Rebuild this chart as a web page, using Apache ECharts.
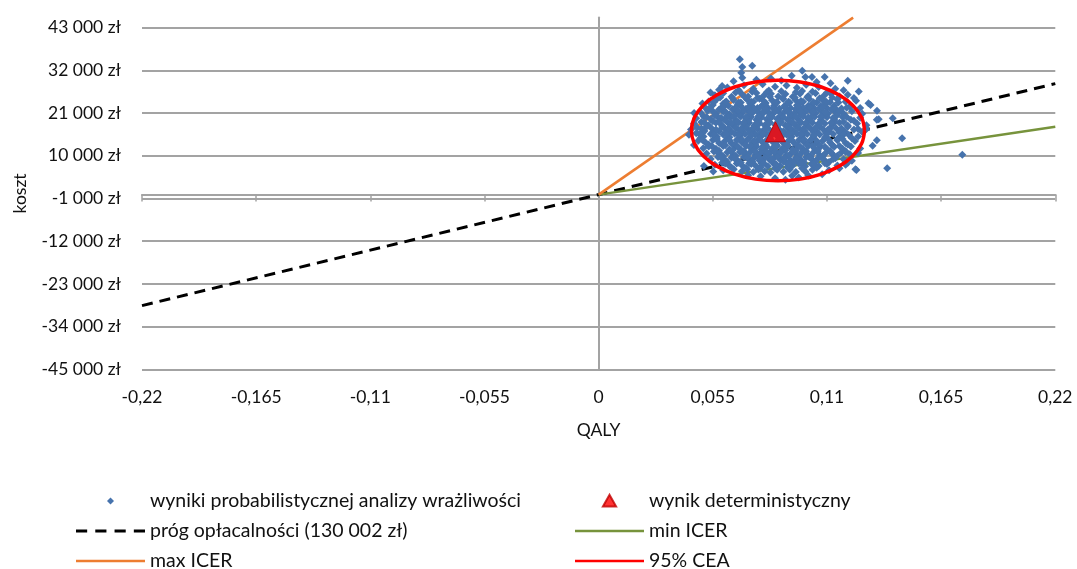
<!DOCTYPE html>
<html>
<head>
<meta charset="utf-8">
<script src="https://cdn.jsdelivr.net/npm/echarts@6/dist/echarts.min.js"></script>
<style>
html,body{margin:0;padding:0;background:#fff;}
#c{width:1077px;height:569px;}
</style>
</head>
<body>
<div id="c"></div>
<script>
// ---- axis ticks ----
const xTicks = [-0.22, -0.165, -0.11, -0.055, 0, 0.055, 0.11, 0.165, 0.22];
const yTicks = [-45000, -34000, -23000, -12000, -1000, 10000, 21000, 32000, 43000];
const yTop = 45600; // plot area extends slightly above the last labelled tick

// ---- series names ----
const names = {
  psa: 'wyniki probabilistycznej analizy wrażliwości',
  det: 'wynik deterministyczny',
  wtp: 'próg opłacalności (130 002 zł)',
  minI: 'min ICER',
  maxI: 'max ICER',
  cea: '95% CEA'
};

// ---- lines ----
const wtpLine = [[-0.22, -28600], [0.22, 28600]];
const minIcerLine = [[0, 0], [0.22, 17490]];
const maxIcerLine = [[0, 0], [0.1226, 45600]];

// ---- deterministic result ----
const detPoint = [[0.0852, 16200]];

// ---- 95% CEA ellipse ----
const ceaEllipse = [
  [0.1281,16500],[0.1267,19850],[0.1225,22980],[0.1159,25660],[0.1073,27720],[0.0972,29010],
  [0.0864,29450],[0.0756,29010],[0.0655,27720],[0.0569,25660],[0.0503,22980],[0.0461,19850],
  [0.0447,16500],[0.0461,13150],[0.0503,10030],[0.0569,7340],[0.0655,5290],[0.0756,3990],
  [0.0864,3550],[0.0972,3990],[0.1073,5290],[0.1159,7340],[0.1225,10030],[0.1267,13150],
  [0.1281,16500]
];

// ---- PSA results ----
const psaPoints = [
  [0.0687,31400],[0.0692,32900],[0.0680,34900],[0.0740,33200],[0.0692,30100],[0.0981,31900],[0.0996,30300],[0.1028,30300],[0.1089,30300],[0.1117,28700],[0.1200,29300],[0.0595,28000],[0.0539,26300],[0.0650,29200],[0.0760,29600],[0.0830,29900],[0.0880,29400],[0.0930,30600],[0.1050,29000],
  [0.0620,27600],[0.0700,28200],[0.0745,27300],[0.0790,28400],[0.0850,27800],[0.0905,28100],[0.0955,27500],[0.1000,28300],[0.1060,27700],[0.1140,27300],[0.1253,26550],[0.0580,27000],[0.0675,26900],[0.0820,26800],[0.0980,26700],[0.1180,26900],
  [0.0560,25600],[0.0600,26100],[0.0640,25200],[0.0690,25900],[0.0720,25300],[0.0760,26200],[0.0795,25500],[0.0830,26000],[0.0865,25300],[0.0900,25900],[0.0935,25200],[0.0970,26000],[0.1010,25400],[0.1045,26100],[0.1085,25500],[0.1120,25900],[0.1160,25300],[0.1200,25700],[0.1230,24900],
  [0.0530,24000],[0.0570,24600],[0.0610,23800],[0.0650,24400],[0.0685,23700],[0.0715,24500],[0.0745,23900],[0.0775,24700],[0.0805,23600],[0.0835,24300],[0.0860,23800],[0.0890,24600],[0.0920,23700],[0.0950,24300],[0.0985,23900],[0.1015,24600],[0.1050,23700],[0.1080,24300],[0.1115,23800],[0.1150,24500],[0.1190,23900],[0.1240,24200],[0.1300,23560],[0.1310,23100],
  [0.0510,22600],[0.0550,23100],[0.0590,22300],[0.0625,22900],[0.0655,22200],[0.0685,22800],[0.0710,22100],[0.0740,22700],[0.0765,22300],[0.0790,23000],[0.0815,22400],[0.0845,22900],[0.0870,22200],[0.0895,22800],[0.0925,22300],[0.0955,23000],[0.0985,22400],[0.1010,22900],[0.1040,22200],[0.1070,22800],[0.1100,22300],[0.1135,22900],[0.1170,22200],[0.1210,22700],[0.1260,22300],
  [0.0490,21200],[0.0525,21600],[0.0565,20800],[0.0600,21400],[0.0630,20700],[0.0660,21500],[0.0690,20900],[0.0715,21700],[0.0740,21000],[0.0765,21500],[0.0790,20800],[0.0815,21400],[0.0840,20900],[0.0865,21600],[0.0890,21000],[0.0915,21500],[0.0940,20800],[0.0965,21400],[0.0990,21000],[0.1020,21700],[0.1045,20900],[0.1075,21500],[0.1105,20800],[0.1140,21300],[0.1180,20900],[0.1220,21500],[0.1270,20800],[0.1341,21580],
  [0.0470,19700],[0.0505,20200],[0.0540,19400],[0.0575,20000],[0.0605,19300],[0.0635,19900],[0.0660,19200],[0.0685,20100],[0.0710,19500],[0.0735,20000],[0.0760,19300],[0.0785,19900],[0.0810,19400],[0.0835,20100],[0.0860,19500],[0.0885,20000],[0.0910,19300],[0.0935,19900],[0.0960,19400],[0.0985,20100],[0.1010,19500],[0.1040,20000],[0.1070,19300],[0.1100,19900],[0.1135,19400],[0.1175,20000],[0.1215,19300],[0.1260,19800],[0.1349,19440],[0.1417,19700],[0.1340,19260],
  [0.0460,18300],[0.0495,18700],[0.0530,17900],[0.0565,18500],[0.0595,17800],[0.0625,18400],[0.0650,17700],[0.0675,18600],[0.0700,18000],[0.0725,18500],[0.0750,17800],[0.0775,18400],[0.0800,17900],[0.0825,18600],[0.0850,18000],[0.0875,18500],[0.0900,17800],[0.0925,18400],[0.0950,17900],[0.0975,18600],[0.1000,18000],[0.1030,18500],[0.1060,17800],[0.1090,18300],[0.1125,17900],[0.1160,18500],[0.1200,17800],[0.1245,18300],[0.1290,17900],
  [0.0445,16800],[0.0475,17200],[0.0510,16400],[0.0545,17000],[0.0580,16300],[0.0610,16900],[0.0640,16200],[0.0665,17100],[0.0690,16500],[0.0715,17000],[0.0740,16300],[0.0765,16900],[0.0790,16400],[0.0815,17100],[0.0840,16500],[0.0865,17000],[0.0890,16300],[0.0915,16900],[0.0940,16400],[0.0965,17100],[0.0990,16500],[0.1020,17000],[0.1050,16300],[0.1080,16900],[0.1110,16400],[0.1145,17000],[0.1185,16300],[0.1230,16800],[0.1289,16860],
  [0.0435,15400],[0.0470,15800],[0.0505,15000],[0.0540,15600],[0.0570,14900],[0.0600,15500],[0.0630,14800],[0.0655,15700],[0.0680,15100],[0.0705,15600],[0.0730,14900],[0.0755,15500],[0.0780,15000],[0.0805,15700],[0.0830,15100],[0.0855,15600],[0.0880,14900],[0.0905,15500],[0.0930,15000],[0.0955,15700],[0.0980,15100],[0.1005,15600],[0.1035,14900],[0.1065,15500],[0.1095,15000],[0.1130,15600],[0.1165,14900],[0.1205,15400],[0.1250,15000],[0.1462,14540],[0.1340,14030],
  [0.0459,12810],[0.0480,13900],[0.0515,13400],[0.0550,14100],[0.0580,13300],[0.0610,13900],[0.0640,13200],[0.0665,14100],[0.0690,13500],[0.0715,14000],[0.0740,13300],[0.0765,13900],[0.0790,13400],[0.0815,14100],[0.0840,13500],[0.0865,14000],[0.0890,13300],[0.0915,13900],[0.0940,13400],[0.0965,14100],[0.0990,13500],[0.1020,14000],[0.1050,13300],[0.1080,13900],[0.1115,13400],[0.1150,14000],[0.1190,13300],[0.1235,13800],[0.1320,12560],
  [0.0504,11960],[0.0530,12400],[0.0565,11800],[0.0600,12500],[0.0630,11700],[0.0660,12300],[0.0685,11600],[0.0710,12500],[0.0735,11900],[0.0760,12400],[0.0785,11700],[0.0810,12300],[0.0835,11800],[0.0860,12500],[0.0885,11900],[0.0910,12400],[0.0935,11700],[0.0960,12300],[0.0985,11800],[0.1010,12500],[0.1040,11900],[0.1070,12400],[0.1100,11700],[0.1135,12300],[0.1175,11800],[0.1215,12400],[0.1260,11900],
  [0.0520,10600],[0.0555,11100],[0.0590,10300],[0.0620,10900],[0.0650,10200],[0.0680,11000],[0.0705,10400],[0.0730,10900],[0.0755,10200],[0.0780,10800],[0.0805,10300],[0.0830,11000],[0.0855,10400],[0.0880,10900],[0.0905,10200],[0.0930,10800],[0.0955,10300],[0.0980,11000],[0.1005,10400],[0.1035,10900],[0.1065,10200],[0.1095,10800],[0.1130,10300],[0.1170,10900],[0.1210,10400],[0.1250,10700],[0.1752,10240],
  [0.0540,9200],[0.0575,9700],[0.0610,8900],[0.0640,9500],[0.0670,8800],[0.0700,9600],[0.0725,9000],[0.0750,9500],[0.0775,8800],[0.0800,9400],[0.0825,8900],[0.0850,9600],[0.0875,9000],[0.0900,9500],[0.0925,8800],[0.0950,9400],[0.0975,8900],[0.1000,9600],[0.1030,9000],[0.1060,9500],[0.1090,8800],[0.1140,9390],[0.1180,9100],[0.1220,8700],
  [0.0560,7700],[0.0595,8200],[0.0630,7400],[0.0665,8000],[0.0695,7300],[0.0725,8100],[0.0755,7500],[0.0785,8000],[0.0815,7300],[0.0845,7900],[0.0875,7400],[0.0905,8100],[0.0935,7500],[0.0965,8000],[0.0995,7300],[0.1025,7900],[0.1060,7400],[0.1100,7900],[0.1150,7500],[0.1190,7700],[0.0507,7400],
  [0.0552,5930],[0.0600,6300],[0.0651,6550],[0.0690,6000],[0.0716,6550],[0.0745,5800],[0.0770,6500],[0.0800,6000],[0.0828,5680],[0.0860,6400],[0.0890,5900],[0.0920,6500],[0.0950,5800],[0.0996,5930],[0.1030,6400],[0.1077,5260],[0.1110,6300],[0.1237,6550],[0.1242,6370],[0.1390,6800],
  [0.0932,4830],[0.0964,4390],[0.0780,4700],[0.0850,4200],[0.0900,3800],[0.1010,4900],[0.0720,5000],
  [0.0600,23400],[0.0670,23300],[0.0730,23500],[0.0800,23300],[0.0850,23400],[0.0905,23200],[0.0970,23500],[0.1030,23300],[0.1095,23400],
  [0.0580,21900],[0.0645,22000],[0.0700,21800],[0.0750,22000],[0.0805,21900],[0.0855,21800],[0.0905,22000],[0.0950,21900],[0.1005,21800],[0.1060,22000],[0.1120,21900],
  [0.0560,20400],[0.0620,20300],[0.0675,20500],[0.0725,20300],[0.0775,20400],[0.0825,20500],[0.0875,20300],[0.0925,20400],[0.0975,20500],[0.1030,20300],[0.1085,20400],[0.1150,20500],
  [0.0550,18900],[0.0615,19000],[0.0665,18800],[0.0720,19000],[0.0770,18900],[0.0820,18800],[0.0870,19000],[0.0920,18900],[0.0970,18800],[0.1020,19000],[0.1075,18900],[0.1140,18800],[0.1230,19000],
  [0.0520,17500],[0.0595,17400],[0.0660,17300],[0.0710,17500],[0.0760,17400],[0.0810,17300],[0.0860,17500],[0.0910,17400],[0.0960,17300],[0.1010,17500],[0.1065,17400],[0.1120,17300],[0.1200,17500],
  [0.0500,15900],[0.0560,16100],[0.0625,15900],[0.0680,16000],[0.0730,16100],[0.0780,15900],[0.0830,16000],[0.0880,16100],[0.0930,15900],[0.0980,16000],[0.1035,16100],[0.1095,15900],[0.1160,16000],[0.1270,16100],
  [0.0490,14500],[0.0560,14400],[0.0620,14600],[0.0675,14400],[0.0725,14500],[0.0775,14600],[0.0825,14400],[0.0875,14500],[0.0925,14600],[0.0975,14400],[0.1030,14500],[0.1090,14600],[0.1150,14400],[0.1220,14500],
  [0.0530,12900],[0.0595,13000],[0.0655,12800],[0.0705,12900],[0.0755,13000],[0.0805,12800],[0.0855,12900],[0.0905,13000],[0.0955,12800],[0.1005,12900],[0.1060,13000],[0.1125,12800],[0.1200,12900],
  [0.0580,11300],[0.0645,11400],[0.0700,11200],[0.0750,11400],[0.0800,11300],[0.0850,11200],[0.0900,11400],[0.0950,11300],[0.1000,11200],[0.1055,11400],[0.1115,11300],[0.1190,11200],
  [0.0600,9900],[0.0660,10000],[0.0715,9800],[0.0765,9900],[0.0815,10000],[0.0865,9800],[0.0915,9900],[0.0965,10000],[0.1020,9800],[0.1080,9900],[0.1150,10000],
  [0.0620,8400],[0.0685,8300],[0.0740,8500],[0.0790,8400],[0.0840,8300],[0.0890,8500],[0.0940,8400],[0.0990,8300],[0.1045,8500],[0.1110,8400],
  [0.0660,26300],[0.0740,26500],[0.0810,26400],[0.0880,26600],[0.0950,26400],[0.1030,26500],[0.1100,26300],
  [0.0640,7000],[0.0710,6900],[0.0780,7000],[0.0850,6800],[0.0910,7000],[0.0980,6800],[0.1050,6900],
  [0.0460,21000],[0.0500,23500],[0.1160,6800],[0.1200,8200],
  [0.0585,25000],[0.0645,24800],[0.0705,25100],[0.0765,24900],[0.0825,25200],[0.0885,24800],[0.0945,25000],[0.1005,25100],[0.1065,24800],[0.1125,25000],
  [0.0555,23800],[0.0615,24000],[0.0675,23700],[0.0735,23900],[0.0795,24100],[0.0855,23700],[0.0915,23900],[0.0975,24100],[0.1035,23800],[0.1095,24000],[0.1155,23700],
  [0.0535,22300],[0.0600,22500],[0.0660,22200],[0.0720,22400],[0.0780,22600],[0.0840,22200],[0.0900,22400],[0.0960,22600],[0.1020,22300],[0.1080,22500],[0.1140,22200],[0.1195,22400],
  [0.0550,21500],[0.0612,21300],[0.0672,21600],[0.0732,21400],[0.0792,21200],[0.0852,21500],[0.0912,21300],[0.0972,21600],[0.1032,21400],[0.1092,21200],[0.1160,21500],
  [0.0520,20000],[0.0590,19800],[0.0650,20100],[0.0710,19900],[0.0770,20200],[0.0830,19800],[0.0890,20000],[0.0950,20200],[0.1010,19900],[0.1070,20100],[0.1130,19800],[0.1195,20000],
  [0.0510,18500],[0.0580,18700],[0.0640,18400],[0.0700,18600],[0.0760,18300],[0.0820,18500],[0.0880,18700],[0.0940,18400],[0.1000,18600],[0.1060,18300],[0.1120,18500],[0.1180,18700],
  [0.0495,17000],[0.0565,16800],[0.0625,17100],[0.0685,16900],[0.0745,17200],[0.0805,16800],[0.0865,16600],[0.0925,17100],[0.0985,16900],[0.1045,17200],[0.1105,16800],[0.1170,17000],[0.1250,16900],
  [0.0485,15600],[0.0555,15400],[0.0615,15700],[0.0675,15500],[0.0735,15300],[0.0795,15600],[0.0855,15400],[0.0915,15700],[0.0975,15500],[0.1035,15300],[0.1100,15600],[0.1180,15500],
  [0.0500,14100],[0.0570,14300],[0.0630,14000],[0.0690,14200],[0.0750,13900],[0.0810,14100],[0.0870,14300],[0.0930,14000],[0.0990,14200],[0.1050,13900],[0.1110,14100],[0.1175,14300],
  [0.0545,12500],[0.0610,12700],[0.0670,12400],[0.0730,12600],[0.0790,12300],[0.0850,12500],[0.0910,12700],[0.0970,12400],[0.1030,12600],[0.1090,12300],[0.1160,12500],
  [0.0570,11000],[0.0635,11200],[0.0695,10900],[0.0755,11100],[0.0815,10800],[0.0875,11000],[0.0935,11200],[0.0995,10900],[0.1055,11100],[0.1120,10800],[0.1190,11000],
  [0.0590,9500],[0.0655,9300],[0.0715,9600],[0.0775,9400],[0.0835,9200],[0.0895,9500],[0.0955,9300],[0.1015,9600],[0.1075,9400],[0.1130,9200],
  [0.0610,8000],[0.0675,8200],[0.0735,7900],[0.0795,8100],[0.0855,7800],[0.0915,8000],[0.0975,8200],[0.1035,7900],[0.1090,8100]
];

// ---- formatting helpers ----
function fmtY(v) {
  const r = Math.round(v);
  if (yTicks.indexOf(r) < 0) return '';
  const s = Math.abs(r).toString().replace(/\B(?=(\d{3})+(?!\d))/g, ' ');
  return (r < 0 ? '-' : '') + s + ' zł';
}
function fmtX(v) {
  const r = parseFloat(v.toFixed(3));
  return String(r === 0 ? 0 : r).replace('.', ',');
}

const FONT = 'Lato';
const gridColor = '#a3a3a3';
const xInterval = xTicks[1] - xTicks[0];
const yInterval = yTicks[1] - yTicks[0];

// legend icons
const ICON_DIAMOND = 'path://M0,0M20,20M10,5L15,10L10,15L5,10Z';
const ICON_TRIANGLE = 'path://M0,0M18,18M9,1L17.5,16L0.5,16Z';
const ICON_LINE = 'path://M0,0L69,0L69,2.5L0,2.5Z';
const ICON_DASH = 'path://M0,0L11,0L11,3L0,3Z M19,0L30,0L30,3L19,3Z M38,0L49,0L49,3L38,3Z M57,0L68,0L68,3L57,3Z';

const legendText = {fontSize: 19.5, color: '#111', fontFamily: FONT};

const chart = echarts.init(document.getElementById('c'), null, {renderer: 'canvas'});
chart.setOption({
  animation: false,
  backgroundColor: '#fff',
  textStyle: {fontFamily: FONT},
  grid: {left: 142, right: 21.7, top: 17.6, bottom: 199.7, containLabel: false},
  xAxis: [
    { // zero axis line with ticks
      type: 'value', min: xTicks[0], max: xTicks[xTicks.length - 1], interval: xInterval,
      position: 'bottom',
      axisLine: {show: true, onZero: true, onZeroAxisIndex: 0, lineStyle: {color: gridColor, width: 2}},
      axisTick: {show: true, length: 7, lineStyle: {color: gridColor, width: 1.5}},
      axisLabel: {show: false},
      splitLine: {show: false}
    },
    { // labels at bottom
      type: 'value', min: xTicks[0], max: xTicks[xTicks.length - 1], interval: xInterval,
      position: 'bottom',
      axisLine: {show: false, onZero: false},
      axisTick: {show: false},
      splitLine: {show: false},
      axisLabel: {show: true, margin: 19, fontSize: 17.5, color: '#111', fontFamily: FONT, formatter: fmtX},
      name: 'QALY', nameLocation: 'middle', nameGap: 52,
      nameTextStyle: {fontSize: 17.5, color: '#111', fontFamily: FONT}
    }
  ],
  yAxis: [
    {
      type: 'value', min: yTicks[0], max: yTop, interval: yInterval,
      position: 'left',
      axisLine: {show: false, onZero: false},
      axisTick: {show: false},
      axisLabel: {show: true, margin: 21, fontSize: 17.5, color: '#111', fontFamily: FONT, formatter: fmtY},
      splitLine: {show: true, showMaxLine: false, lineStyle: {color: gridColor, width: 2}},
      name: 'koszt', nameLocation: 'middle', nameGap: 113, nameRotate: 90,
      nameTextStyle: {fontSize: 17.5, color: '#111', fontFamily: FONT}
    },
    {
      type: 'value', min: yTicks[0], max: yTop, interval: yInterval,
      position: 'left',
      axisLine: {show: true, onZero: true, onZeroAxisIndex: 0, lineStyle: {color: gridColor, width: 2}},
      axisTick: {show: false},
      axisLabel: {show: false},
      splitLine: {show: false}
    }
  ],
  legend: [
    {
      orient: 'vertical', left: 71, top: 486, height: 120, itemWidth: 69, itemHeight: 14, itemGap: 10,
      textStyle: legendText,
      data: [
        {name: names.psa, icon: ICON_DIAMOND},
        {name: names.wtp, icon: ICON_DASH},
        {name: names.maxI, icon: ICON_LINE}
      ]
    },
    {
      orient: 'vertical', left: 570, top: 486, height: 120, itemWidth: 69, itemHeight: 14, itemGap: 10,
      textStyle: legendText,
      data: [
        {name: names.det, icon: ICON_TRIANGLE},
        {name: names.minI, icon: ICON_LINE},
        {name: names.cea, icon: ICON_LINE}
      ]
    }
  ],
  series: [
    {
      name: names.wtp, type: 'line', data: wtpLine, symbol: 'none', z: 2,
      lineStyle: {color: '#000', width: 3, type: [11, 7]}, itemStyle: {color: '#000'}
    },
    {
      name: names.minI, type: 'line', data: minIcerLine, symbol: 'none', z: 2,
      lineStyle: {color: '#77933c', width: 2.5}, itemStyle: {color: '#77933c'}
    },
    {
      name: names.maxI, type: 'line', data: maxIcerLine, symbol: 'none', z: 2,
      lineStyle: {color: '#ed7d31', width: 2.5}, itemStyle: {color: '#ed7d31'}
    },
    {
      name: names.psa, type: 'scatter', data: psaPoints, symbol: 'diamond', symbolSize: 8, z: 3,
      itemStyle: {color: '#4673ad', opacity: 1}
    },
    {
      name: names.cea, type: 'line', data: ceaEllipse, symbol: 'none', smooth: 0.4, z: 4,
      lineStyle: {color: '#ff0000', width: 3.5}, itemStyle: {color: '#ff0000'}
    },
    {
      name: names.det, type: 'scatter', data: detPoint, symbol: 'triangle', symbolSize: 20, z: 5,
      itemStyle: {color: '#ff0000', borderColor: '#c00000', borderWidth: 1}
    }
  ]
});
</script>
</body>
</html>
